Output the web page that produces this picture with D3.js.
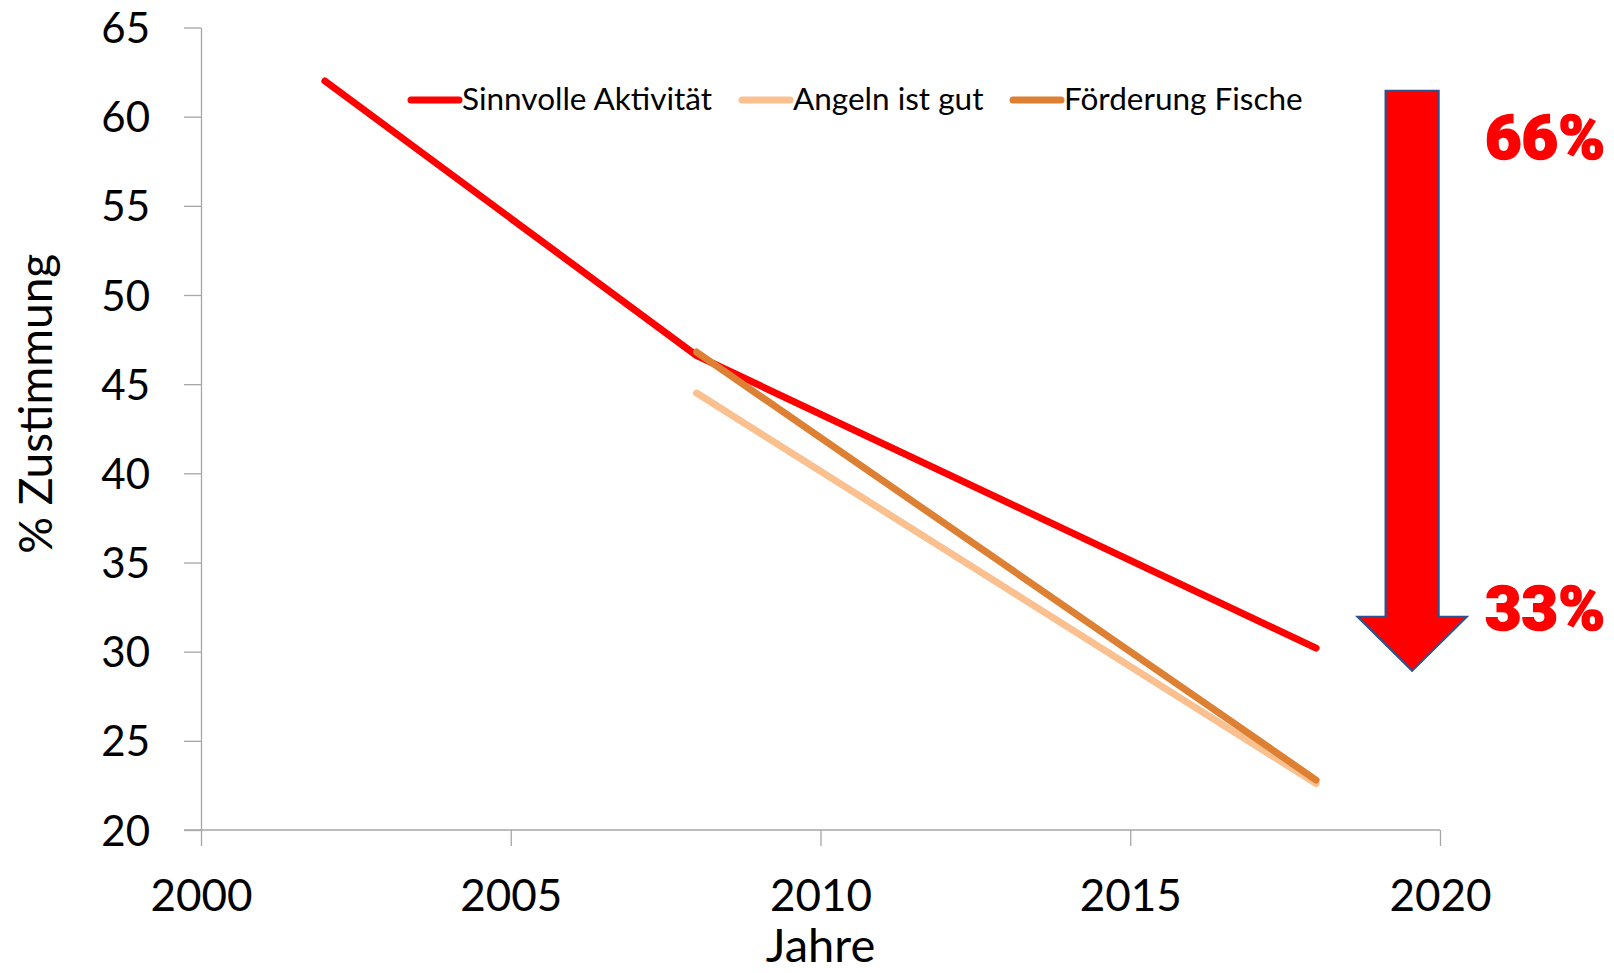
<!DOCTYPE html>
<html lang="de">
<head>
  <meta charset="UTF-8">
  <title>Zustimmung</title>
  <style>
    body { margin: 0; background: #fff; }
    svg { display: block; font-family: Lato, 'Open Sans', sans-serif; }
    .axis path, .axis line { stroke: #a6a6a6; stroke-width: 1.3; }
    .axis text { fill: #000; font-family: Lato, 'Open Sans', sans-serif; }
  </style>
</head>
<body>
  <div class="canvas"></div>
  <script src="https://d3js.org/d3.v7.min.js"></script>
  <script>
    // data
    const yearsSinn = [2002, 2008, 2018];
    const sinnvolle = [62.0, 46.6, 30.2];
    const yearsNew = [2008, 2018];
    const angeln = [44.5, 22.6];
    const foerderung = [46.8, 22.8];
    const seriesNames = ['Sinnvolle Aktivität', 'Angeln ist gut', 'Förderung Fische'];
    const seriesColors = ['#ff0000', '#fac08f', '#dd8033'];
    const xTicks = [2000, 2005, 2010, 2015, 2020];
    const yTicks = [20, 25, 30, 35, 40, 45, 50, 55, 60, 65];
    const drop = ['66%', '33%'];

    const width = 1614;
    const height = 973;

    const svg = d3.select('.canvas')
      .append('svg')
      .attr('width', width)
      .attr('height', height);

    const x = d3.scaleLinear().domain([2000, 2020]).range([201, 1440]);
    const y = d3.scaleLinear().domain([20, 65]).range([830, 27.5]);

    // axes
    const gY = svg.append('g')
      .attr('class', 'axis')
      .attr('transform', `translate(${x(2000)},0)`)
      .call(d3.axisLeft(y).tickValues(yTicks).tickSize(17).tickSizeOuter(0).tickPadding(34));
    gY.selectAll('text')
      .style('font-size', '42px')
      .attr('dy', '0.36em');

    const gX = svg.append('g')
      .attr('class', 'axis')
      .attr('transform', `translate(0,${y(20)})`)
      .call(d3.axisBottom(x).tickValues(xTicks).tickFormat(d3.format('d')).tickSize(16).tickSizeOuter(0));
    gX.selectAll('text')
      .style('font-size', '44px')
      .attr('y', 81)
      .attr('dy', 0);
    gX.select('.domain').attr('d', `M${x(2000) - 17},0H${x(2020)}`);

    // axis titles
    svg.append('text')
      .attr('x', (x(2000) + x(2020)) / 2)
      .attr('y', 962)
      .attr('text-anchor', 'middle')
      .style('font-size', '47px')
      .text('Jahre');

    svg.append('text')
      .attr('transform', `translate(52,${(y(20) + y(65)) / 2 - 25}) rotate(-90)`)
      .attr('text-anchor', 'middle')
      .style('font-size', '46px')
      .text('% Zustimmung');

    // lines
    const line = d3.line().x(d => x(d[0])).y(d => y(d[1]));
    const series = [
      d3.zip(yearsSinn, sinnvolle),
      d3.zip(yearsNew, angeln),
      d3.zip(yearsNew, foerderung)
    ];
    svg.selectAll('path.series')
      .data(series)
      .enter()
      .append('path')
      .attr('class', 'series')
      .attr('d', line)
      .attr('fill', 'none')
      .attr('stroke', (d, i) => seriesColors[i])
      .attr('stroke-width', 7)
      .attr('stroke-linecap', 'round')
      .attr('stroke-linejoin', 'round');

    // legend
    const legendX = [411, 742, 1013];
    const legend = svg.selectAll('g.legend')
      .data(seriesNames)
      .enter()
      .append('g')
      .attr('class', 'legend')
      .attr('transform', (d, i) => `translate(${legendX[i]},100)`);
    legend.append('line')
      .attr('x1', 0).attr('x2', 48)
      .attr('stroke', (d, i) => seriesColors[i])
      .attr('stroke-width', 7)
      .attr('stroke-linecap', 'round');
    legend.append('text')
      .attr('x', 51)
      .attr('y', 10)
      .style('font-size', '31.5px')
      .text(d => d);

    // drop arrow
    const ax = x(2019.55);
    const shaftW = 26.5, headW = 54.5;
    const arrowTop = y(61.45), headY = y(31.95), tipY = y(28.93);
    svg.append('path')
      .attr('d', `M${ax - shaftW},${arrowTop}H${ax + shaftW}V${headY}H${ax + headW}L${ax},${tipY}L${ax - headW},${headY}H${ax - shaftW}Z`)
      .attr('fill', '#ff0000')
      .attr('stroke', '#2f528f')
      .attr('stroke-width', 2.2);

    svg.selectAll('text.drop')
      .data(drop)
      .enter()
      .append('text')
      .attr('class', 'drop')
      .attr('x', 1485)
      .attr('y', (d, i) => [159, 630][i])
      .attr('textLength', 120)
      .attr('lengthAdjust', 'spacingAndGlyphs')
      .style('font-family', "Roboto, 'DejaVu Sans', sans-serif")
      .style('font-weight', 900)
      .style('font-size', '62px')
      .attr('fill', '#ff0000')
      .attr('stroke', '#ff0000')
      .attr('stroke-width', 1.5)
      .text(d => d);
  </script>
</body>
</html>
